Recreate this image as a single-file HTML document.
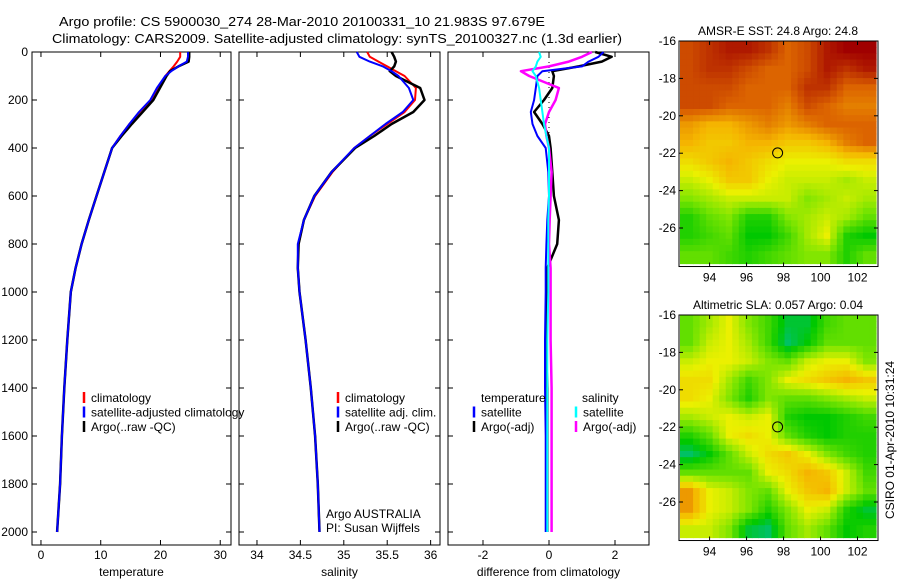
<!DOCTYPE html>
<html><head><meta charset="utf-8"><style>
html,body{margin:0;padding:0;background:#fff;}
svg{display:block;font-family:"Liberation Sans",sans-serif;}
</style></head><body>
<svg id="fig" width="900" height="580" viewBox="0 0 900 580" xmlns="http://www.w3.org/2000/svg">
<rect width="900" height="580" fill="#fff"/>
<text x="59" y="26" font-size="13" textLength="486" lengthAdjust="spacingAndGlyphs">Argo profile: CS 5900030_274 28-Mar-2010 20100331_10 21.983S 97.679E</text>
<text x="52" y="43" font-size="13" textLength="570" lengthAdjust="spacingAndGlyphs">Climatology: CARS2009. Satellite-adjusted climatology: synTS_20100327.nc (1.3d earlier)</text>
<text transform="translate(894,440) rotate(-90)" text-anchor="middle" font-size="12">CSIRO 01-Apr-2010 10:31:24</text>
<g id="plots"></g>
</svg>
<script>
// ---- profile data ----
const depths = [0,20,40,60,80,100,150,200,250,300,350,400,500,600,700,800,900,1000,1200,1400,1600,1800,2000];
const argoT = [24.8,24.8,24.7,23,21.6,21,19.9,18.8,17,15.2,13.5,11.9,10.6,9.3,8,6.8,5.8,5.0,4.4,3.9,3.5,3.2,2.7];
const climT = [23.3,23.3,22.8,22.2,21.5,20.8,19.5,18.4,16.5,14.8,13.3,11.9,10.6,9.3,8,6.8,5.8,5.0,4.4,3.9,3.5,3.2,2.7];
const satT  = [24.6,24.6,24.4,23,21.8,20.8,19.4,18.3,16.4,14.8,13.3,11.9,10.6,9.3,8,6.8,5.8,5.0,4.4,3.9,3.5,3.2,2.7];
const argoS = [35.55,35.58,35.6,35.58,35.53,35.6,35.88,35.93,35.8,35.55,35.35,35.13,34.86,34.66,34.54,34.48,34.47,34.49,34.56,34.62,34.67,34.7,34.72];
const climS = [35.27,35.3,35.4,35.5,35.6,35.7,35.83,35.82,35.7,35.5,35.3,35.12,34.87,34.67,34.54,34.48,34.47,34.49,34.56,34.62,34.67,34.7,34.72];
const satS  = [35.15,35.18,35.3,35.45,35.55,35.63,35.75,35.8,35.68,35.48,35.3,35.12,34.86,34.66,34.54,34.47,34.47,34.49,34.56,34.62,34.67,34.7,34.72];
const dTsat  = [1.65,1.5,1.2,1.0,-0.2,-0.35,-0.4,-0.45,-0.55,-0.5,-0.35,-0.1,-0.02,0,-0.05,-0.08,-0.1,-0.1,-0.12,-0.12,-0.1,-0.1,-0.1];
const dTargo = [1.4,1.9,1.6,0.9,0.1,0.15,0.1,-0.15,-0.45,-0.2,0,0.05,0.1,0.15,0.3,0.25,-0.05,-0.05,-0.1,-0.05,-0.05,-0.05,-0.05];
const dSsat  = [-0.3,-0.25,-0.35,-0.4,-0.5,-0.4,-0.3,-0.25,-0.2,-0.15,-0.08,0,0,0,-0.02,-0.02,-0.02,-0.02,-0.05,-0.05,-0.05,-0.05,-0.05];
const dSargo = [1.3,1.0,0.6,0.0,-0.85,-0.6,0.3,0.2,0.0,-0.12,-0.08,0.0,0.08,0.05,0.02,0.0,0.05,0.05,0.05,0.08,0.08,0.08,0.08];
const depthTicks = [0,200,400,600,800,1000,1200,1400,1600,1800,2000];
const tempTicks = [0,10,20,30];
const salTicks = [34,34.5,35,35.5,36];
const diffTicks = [-2,0,2];
// ---- map data (0..1 colour index) ----
const lonTicks = [94,96,98,100,102];
const latTicks = [-16,-18,-20,-22,-24,-26];
const sstGrid = [
[.85,.9,.95,.95,.9,.8,.85,.95,1,1],
[.85,.9,.9,.85,.8,.8,.85,.95,.9,.95],
[.85,.85,.85,.8,.8,.8,.9,.9,.8,.8],
[.85,.85,.8,.8,.8,.75,.85,.8,.75,.75],
[.7,.65,.65,.7,.75,.7,.75,.8,.8,.8],
[.65,.6,.6,.65,.65,.6,.6,.65,.75,.8],
[.55,.6,.65,.6,.55,.5,.5,.5,.55,.55],
[.45,.5,.6,.6,.5,.45,.45,.45,.4,.45],
[.35,.4,.45,.45,.45,.45,.35,.4,.45,.4],
[.2,.3,.35,.2,.2,.35,.4,.45,.4,.3],
[.2,.25,.3,.15,.15,.25,.4,.5,.2,.15],
[.3,.3,.25,.2,.25,.3,.35,.35,.2,.3]];
const slaGrid = [
[.3,.4,.5,.35,.25,.1,.1,.25,.3,.3],
[.3,.45,.5,.4,.25,.05,.15,.3,.3,.3],
[.45,.5,.5,.45,.35,.3,.45,.5,.5,.35],
[.55,.55,.4,.25,.35,.5,.55,.6,.65,.6],
[.55,.5,.35,.2,.35,.3,.3,.35,.4,.45],
[.4,.45,.5,.45,.5,.2,.15,.15,.2,.25],
[.2,.3,.5,.55,.5,.3,.2,.15,.2,.2],
[.05,.15,.3,.45,.55,.6,.5,.35,.25,.2],
[.3,.3,.3,.3,.5,.55,.65,.6,.45,.25],
[.7,.5,.45,.35,.3,.5,.6,.65,.45,.3],
[.7,.5,.45,.35,.2,.35,.5,.45,.2,.1],
[.45,.45,.35,.1,.05,.3,.4,.3,.15,.2]];
const argoLon = 97.679, argoLat = -21.983;

const NS='http://www.w3.org/2000/svg';
const root=document.getElementById('plots');
function mk(tag,attrs,parent){const e=document.createElementNS(NS,tag);for(const k in attrs)e.setAttribute(k,attrs[k]);(parent||root).appendChild(e);return e;}
function txt(s,x,y,attrs,parent){const e=mk('text',Object.assign({x:x,y:y,'font-size':12},attrs||{}),parent);e.textContent=s;return e;}

const Y0=52, Y1=545;
const yD=d=>Y0+d*0.24;
function panel(name,x0,x1,vmin,vmax,ticks,xlabel){
  const g=mk('g',{});
  
  
  const sx=v=>x0+(v-vmin)/(vmax-vmin)*(x1-x0);
  mk('rect',{x:x0,y:Y0,width:x1-x0,height:Y1-Y0,fill:'none',stroke:'#000','stroke-width':1},g);
  ticks.forEach(t=>{const x=sx(t);
    mk('line',{x1:x,x2:x,y1:Y1,y2:Y1-5,stroke:'#000'},g);
    mk('line',{x1:x,x2:x,y1:Y0,y2:Y0+5,stroke:'#000'},g);
    const l=txt(String(t),x,559,{'text-anchor':'middle'},g);
    
    
  });
  depthTicks.forEach(d=>{const y=yD(d);
    mk('line',{x1:x0,x2:x0+5,y1:y,y2:y,stroke:'#000'},g);
    mk('line',{x1:x1,x2:x1-5,y1:y,y2:y,stroke:'#000'},g);
  });
  const xl=txt(xlabel,(x0+x1)/2,576,{'text-anchor':'middle'},g);
  
  
  return {g,sx};
}
function line(p,vals,color,w,name){
  const pts=vals.map((v,i)=>p.sx(v).toFixed(1)+','+yD(depths[i]).toFixed(1)).join(' ');
  const e=mk('polyline',{points:pts,fill:'none',stroke:color,'stroke-width':w,'stroke-linejoin':'round'},p.g);
  
  
}
function legend(g,x,y,items){
  items.forEach((it,i)=>{
    mk('line',{x1:x,x2:x,y1:y+i*14.5-10,y2:y+i*14.5+1,stroke:it[1],'stroke-width':2.5},g);
    const t=txt(it[0],x+7,y+i*14.5,{},g);
    
    
  });
}
depthTicks.forEach(d=>{
  const t=txt(String(d),28,yD(d)+4,{'text-anchor':'end'});
  
  
});

const pT=panel('temperature-panel',32,231,-1.5,31.8,tempTicks,'temperature');
line(pT,climT,'#f00',2,'climatology-temperature-line');
line(pT,argoT,'#000',2.5,'argo-temperature-line');
line(pT,satT,'#00f',2,'satellite-temperature-line');
legend(pT.g,84,402,[['climatology','#f00'],['satellite-adjusted climatology','#00f'],['Argo(..raw -QC)','#000']]);

const pS=panel('salinity-panel',239,440,33.793,36.108,salTicks,'salinity');
line(pS,climS,'#f00',2,'climatology-salinity-line');
line(pS,argoS,'#000',2.5,'argo-salinity-line');
line(pS,satS,'#00f',2,'satellite-salinity-line');
legend(pS.g,338,402,[['climatology','#f00'],['satellite adj. clim.','#00f'],['Argo(..raw -QC)','#000']]);
txt('Argo AUSTRALIA',326,518,{},pS.g);
txt('PI: Susan Wijffels',326,532,{},pS.g);

const pD=panel('difference-panel',448,649,-3.06,3.03,diffTicks,'difference from climatology');
mk('line',{x1:pD.sx(0),x2:pD.sx(0),y1:Y0,y2:yD(400),stroke:'#000','stroke-dasharray':'1 4'},pD.g);
line(pD,dTargo,'#000',2.5,'argo-temperature-difference-line');
line(pD,dSargo,'#f0f',2.5,'argo-salinity-difference-line');
line(pD,dTsat,'#00f',2,'satellite-temperature-difference-line');
line(pD,dSsat,'#0ff',2,'satellite-salinity-difference-line');
txt('temperature',481,402,{},pD.g);
txt('salinity',582,402,{},pD.g);
legend(pD.g,474,416.5,[['satellite','#00f'],['Argo(-adj)','#000']]);
legend(pD.g,576,416.5,[['satellite','#0ff'],['Argo(-adj)','#f0f']]);

// ---- maps ----
const stops=[[0,[0,190,150]],[.15,[0,200,0]],[.35,[130,230,0]],[.5,[235,240,0]],[.65,[245,180,0]],[.8,[220,100,0]],[1,[160,0,0]]];
function cmap(v){v=Math.max(0,Math.min(1,v));for(let i=1;i<stops.length;i++){if(v<=stops[i][0]){const a=stops[i-1],b=stops[i];const f=(v-a[0])/(b[0]-a[0]);
  return 'rgb('+a[1].map((c,k)=>Math.round(c+f*(b[1][k]-c))).join(',')+')';}}return 'rgb(160,0,0)';}
function sample(grid,fr,fc){
  const R=grid.length-1,C=grid[0].length-1;
  fr=Math.max(0,Math.min(R,fr));fc=Math.max(0,Math.min(C,fc));
  const r0=Math.floor(fr),c0=Math.floor(fc),r1=Math.min(R,r0+1),c1=Math.min(C,c0+1);
  const a=fr-r0,b=fc-c0;
  return (grid[r0][c0]*(1-b)+grid[r0][c1]*b)*(1-a)+(grid[r1][c0]*(1-b)+grid[r1][c1]*b)*a;
}
function map(name,top,grid,title){
  const g=mk('g',{});
  
  
  const L=680,R=876,lon0=92.4,lon1=103.0,lat0=-16,latB=-27.9;
  const sx=lo=>L+(lo-lon0)/(lon1-lon0)*(R-L);
  const sy=la=>top+(lat0-la)*18.7;
  const rows=grid.length, cols=grid[0].length, sub=3;
  const cw=(R-L)/(cols*sub), ch=(sy(latB)-top)/(rows*sub);
  for(let r=0;r<rows*sub;r++)for(let c=0;c<cols*sub;c++){
    const v=sample(grid,(r+0.5)/sub-0.5,(c+0.5)/sub-0.5);
    const cell=mk('rect',{x:(L+c*cw).toFixed(2),y:(top+r*ch).toFixed(2),width:(cw+0.6).toFixed(2),height:(ch+0.6).toFixed(2),fill:cmap(v)},g);
    
    
  }
  const bot=sy(latB)+3;
  mk('rect',{x:L-1,y:top,width:R-L+3,height:bot-top,fill:'none',stroke:'#000'},g);
  lonTicks.forEach(lo=>{const x=sx(lo);mk('line',{x1:x,x2:x,y1:bot,y2:bot-4,stroke:'#000'},g);mk('line',{x1:x,x2:x,y1:top,y2:top+4,stroke:'#000'},g);
    const t=txt(String(lo),x,bot+15,{'text-anchor':'middle'},g);});
  latTicks.forEach(la=>{const y=sy(la);mk('line',{x1:L-1,x2:L+3,y1:y,y2:y,stroke:'#000'},g);mk('line',{x1:R+2,x2:R-2,y1:y,y2:y,stroke:'#000'},g);
    const t=txt(String(la),676,y+4,{'text-anchor':'end'},g);});
  const tt=txt(title,(L+R)/2,top-6,{'text-anchor':'middle'},g);
  
  
  const m=mk('circle',{cx:sx(argoLon),cy:sy(argoLat),r:5,fill:'none',stroke:'#000','stroke-width':1},g);
  
  
}
map('sst-map',41,sstGrid,'AMSR-E SST: 24.8 Argo: 24.8');
map('sla-map',315,slaGrid,'Altimetric SLA: 0.057 Argo: 0.04');
</script>
</body></html>
